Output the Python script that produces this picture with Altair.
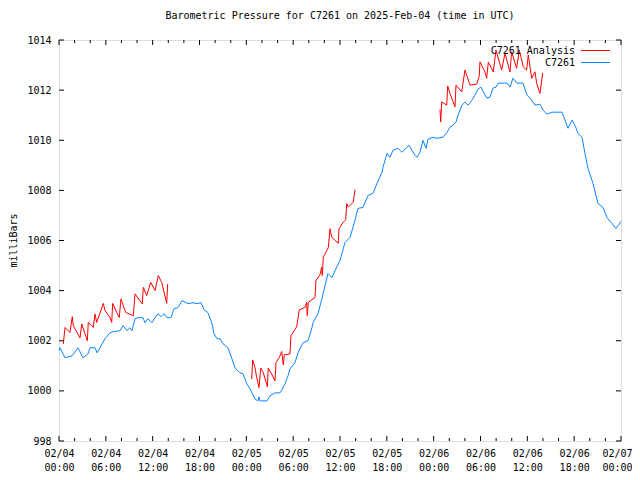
import altair as alt
import pandas as pd

# ---- data (hours since 2025-02-04 00:00 UTC, pressure in mb) ----
obs_hours = [0.0, 0.13, 0.77, 1.67, 2.43, 3.07, 3.72, 3.97, 4.61, 4.87, 5.25, 5.89, 6.53, 6.92, 7.81,
             8.20, 8.71, 9.10, 9.35, 9.74, 10.12, 10.76, 11.02, 11.40, 11.91, 12.30, 12.68, 13.07,
             13.45, 13.84, 14.35, 14.73, 15.24, 15.76, 16.53, 17.17, 17.68, 18.19, 18.58, 19.09,
             19.60, 19.86, 20.24, 20.63, 21.01, 21.65, 22.16, 22.55, 23.19, 23.57, 24.08, 24.47,
             25.11, 25.49, 25.62, 25.75, 26.65, 27.03, 27.67, 28.31, 28.57, 28.95, 29.34, 29.59,
             30.23, 30.62, 31.26, 31.90, 32.41, 32.54, 33.18, 33.69, 34.08, 34.46, 34.97, 35.36,
             36.00, 36.64, 37.28, 37.92, 38.30, 38.95, 39.59, 40.23, 40.74, 41.38, 41.51, 42.02,
             42.40, 42.79, 43.43, 43.94, 44.58, 44.84, 45.22, 45.61, 45.86, 46.25, 46.63, 47.02,
             47.27, 47.91, 48.42, 49.19, 49.71, 50.09, 50.47, 50.86, 51.11, 51.63, 52.01, 52.40,
             52.91, 53.29, 53.68, 54.06, 54.57, 54.83, 55.21, 55.60, 55.98, 56.24, 57.39, 57.78,
             58.16, 58.67, 59.44, 59.95, 60.34, 60.72, 60.98, 61.62, 62.00, 62.52, 63.16, 64.44,
             64.82, 65.21, 65.72, 66.10, 66.49, 67.00, 67.38, 67.77, 68.41, 69.05, 69.69, 70.20,
             70.84, 71.36, 71.74, 72.0]
obs_mb = [1001.60, 1001.72, 1001.32, 1001.40, 1001.72, 1001.32, 1001.48, 1001.72, 1001.72, 1001.52,
          1001.72, 1002.08, 1002.32, 1002.36, 1002.40, 1002.60, 1002.40, 1002.52, 1002.40, 1002.88,
          1002.92, 1002.92, 1002.72, 1002.88, 1002.72, 1002.92, 1003.08, 1002.96, 1003.08, 1002.92,
          1002.92, 1003.28, 1003.32, 1003.60, 1003.48, 1003.52, 1003.48, 1003.52, 1003.24, 1003.12,
          1002.68, 1002.28, 1002.08, 1002.08, 1001.88, 1001.72, 1001.28, 1000.92, 1000.72, 1000.68,
          1000.28, 1000.08, 999.68, 999.60, 999.76, 999.60, 999.60, 999.80, 999.92, 999.92,
          1000.04, 1000.28, 1000.60, 1000.88, 1001.12, 1001.52, 1001.92, 1002.00, 1002.52, 1002.72,
          1003.08, 1003.68, 1004.20, 1004.68, 1004.52, 1004.80, 1005.20, 1005.92, 1006.12, 1006.80,
          1007.28, 1007.32, 1007.80, 1007.88, 1008.28, 1008.72, 1008.92, 1009.48, 1009.32, 1009.60,
          1009.68, 1009.52, 1009.72, 1009.80, 1009.60, 1009.40, 1009.32, 1009.52, 1010.00, 1009.68,
          1010.04, 1010.12, 1010.08, 1010.12, 1010.32, 1010.52, 1010.60, 1010.72, 1011.00, 1011.40,
          1011.52, 1011.40, 1011.60, 1011.80, 1012.04, 1012.12, 1011.80, 1011.68, 1011.72, 1012.08,
          1012.12, 1012.28, 1012.28, 1012.12, 1012.48, 1012.28, 1012.28, 1011.80, 1011.68, 1011.52,
          1011.40, 1011.44, 1011.20, 1011.04, 1011.12, 1011.12, 1010.80, 1010.48, 1010.80, 1010.60,
          1010.28, 1010.12, 1009.48, 1008.88, 1008.28, 1007.48, 1007.32, 1006.92, 1006.68, 1006.48,
          1006.64, 1006.76]

ana1_hours = [0.55, 0.77, 1.41, 1.70, 1.83, 2.69, 2.91, 3.63, 3.75, 4.39, 4.61, 4.83, 5.68, 5.89,
              6.53, 6.75, 6.88, 7.39, 7.72, 7.94, 8.54, 9.52, 9.74, 10.67, 10.80, 11.24, 11.75,
              12.30, 12.72, 13.16, 13.80, 13.93]
ana1_mb = [1001.87, 1002.53, 1002.33, 1002.96, 1002.60, 1002.11, 1002.67, 1002.00, 1002.73, 1002.53,
           1003.07, 1002.73, 1003.49, 1003.20, 1002.93, 1002.73, 1003.49, 1003.13, 1002.93, 1003.67,
           1003.13, 1003.00, 1003.87, 1003.47, 1004.13, 1003.80, 1004.33, 1004.00, 1004.60, 1004.33,
           1003.49, 1004.27]

ana2_hours = [24.69, 24.81, 25.11, 25.33, 25.62, 25.84, 26.17, 26.69, 26.81, 27.25, 27.67, 27.80,
              28.22, 28.53, 28.74, 28.86, 29.59, 29.72, 30.45, 30.78, 31.51, 31.73, 31.81, 31.94,
              32.80, 32.92, 33.44, 33.65, 33.73, 33.86, 34.50, 34.72, 34.94, 35.78, 35.87, 36.42,
              36.73, 36.86, 37.06, 37.70, 37.92]
ana2_mb = [1000.47, 1001.23, 1000.93, 1000.53, 1000.13, 1000.91, 1000.73, 1000.16, 1000.91, 1000.67,
           1000.40, 1001.13, 1001.33, 1001.57, 1001.04, 1001.44, 1001.47, 1002.20, 1002.56, 1003.23,
           1003.33, 1003.53, 1003.00, 1003.53, 1003.73, 1004.40, 1004.64, 1004.93, 1004.60, 1005.33,
           1005.71, 1006.47, 1006.13, 1005.89, 1006.47, 1006.73, 1006.83, 1007.47, 1007.33, 1007.53,
           1008.03]

ana3_hours = [48.81, 48.90, 49.03, 49.67, 49.80, 50.09, 50.73, 50.86, 51.59, 52.01, 52.65, 53.51,
              53.84, 53.93, 54.57, 54.79, 55.00, 55.64, 55.98, 56.71, 57.14, 57.78, 57.99, 58.63,
              58.97, 59.48, 59.91, 60.12, 60.56, 60.98, 61.20, 61.62, 61.97]
ana3_mb = [1011.23, 1010.73, 1011.53, 1011.40, 1012.16, 1011.87, 1011.33, 1012.20, 1011.93, 1012.80,
           1012.20, 1012.24, 1012.56, 1013.13, 1012.73, 1012.47, 1013.12, 1012.73, 1013.60, 1012.80,
           1013.47, 1012.73, 1013.53, 1012.87, 1013.60, 1012.93, 1012.80, 1013.40, 1012.47, 1012.73,
           1012.27, 1011.87, 1012.69]

x_major = list(range(0, 73, 6))
x_minor = [h for h in range(0, 73, 2) if h % 6 != 0]
y_ticks = list(range(998, 1015, 2))
legend_labels = ["C7261 Analysis", "C7261"]
colors = ["#ff0000", "#0a84ff"]

FONT = "DejaVu Sans Mono"
W, H = 562, 401

obs = pd.DataFrame({"h": obs_hours, "p": obs_mb})
ana = pd.concat([
    pd.DataFrame({"h": ana1_hours, "p": ana1_mb, "seg": 1}),
    pd.DataFrame({"h": ana2_hours, "p": ana2_mb, "seg": 2}),
    pd.DataFrame({"h": ana3_hours, "p": ana3_mb, "seg": 3}),
])

xs = alt.Scale(domain=[0, 72], nice=False, zero=False)
ys = alt.Scale(domain=[998, 1014], nice=False, zero=False)

x_axis = alt.Axis(values=x_major, ticks=False, domain=False, grid=False,
                  labelFont=FONT, labelFontSize=10, labelColor="black",
                  labelPadding=7, labelLineHeight=14, labelFlush=False,
                  labelOffset={"condition": {"test": "datum.value == 72", "value": -4}, "value": 0},
                  labelExpr="['02/0' + (4 + floor(datum.value/24)), "
                            "(datum.value % 24 < 10 ? '0' : '') + (datum.value % 24) + ':00']",
                  title=None)
y_axis = alt.Axis(values=y_ticks, ticks=False, domain=False, grid=False, format="d",
                  labelFont=FONT, labelFontSize=10, labelColor="black",
                  labelPadding=8, labelFlush=False,
                  title="milliBars", titleFont=FONT, titleFontSize=10,
                  titleFontWeight="normal", titleColor="black",
                  titleAngle=270, titleX=-46, titleY=200,
                  titleAlign="center", titleBaseline="middle")

obs_line = alt.Chart(obs).mark_line(color=colors[1], strokeWidth=1, interpolate="linear").encode(
    x=alt.X("h:Q", scale=xs, axis=x_axis),
    y=alt.Y("p:Q", scale=ys, axis=y_axis),
)
ana_line = alt.Chart(ana).mark_line(color=colors[0], strokeWidth=1).encode(
    x=alt.X("h:Q", scale=xs),
    y=alt.Y("p:Q", scale=ys),
    detail="seg:N",
)

xmaj = pd.DataFrame({"h": x_major})
xmin = pd.DataFrame({"h": x_minor})
yt = pd.DataFrame({"p": y_ticks})
tick_style = dict(color="black", strokeWidth=1)

ticks = [
    alt.Chart(xmaj).mark_rule(**tick_style).encode(x=alt.X("h:Q", scale=xs), y=alt.value(H), y2=alt.value(H - 5)),
    alt.Chart(xmaj).mark_rule(**tick_style).encode(x=alt.X("h:Q", scale=xs), y=alt.value(0), y2=alt.value(5)),
    alt.Chart(xmin).mark_rule(**tick_style).encode(x=alt.X("h:Q", scale=xs), y=alt.value(H), y2=alt.value(H - 3)),
    alt.Chart(xmin).mark_rule(**tick_style).encode(x=alt.X("h:Q", scale=xs), y=alt.value(0), y2=alt.value(3)),
    alt.Chart(yt).mark_rule(**tick_style).encode(y=alt.Y("p:Q", scale=ys), x=alt.value(0), x2=alt.value(5)),
    alt.Chart(yt).mark_rule(**tick_style).encode(y=alt.Y("p:Q", scale=ys), x=alt.value(W), x2=alt.value(W - 5)),
]

leg_df = pd.DataFrame({"label": legend_labels, "row": [0, 1]})
leg_text = []
leg_lines = []
for i, (lab, col) in enumerate(zip(legend_labels, colors)):
    d = leg_df[leg_df.row == i]
    yy = 10.5 + i * 12
    leg_text.append(alt.Chart(d).mark_text(font=FONT, fontSize=10, align="right", baseline="middle",
                                           color="black").encode(
        text="label:N", x=alt.value(516), y=alt.value(yy)))
    leg_lines.append(alt.Chart(d).mark_rule(color=col, strokeWidth=1).encode(
        x=alt.value(522), x2=alt.value(551), y=alt.value(yy)))

chart = alt.layer(obs_line, ana_line, *ticks, *leg_text, *leg_lines).properties(
    width=W, height=H,
    title=alt.TitleParams("Barometric Pressure for C7261 on 2025-Feb-04 (time in UTC)",
                          font=FONT, fontSize=10, fontWeight="normal", color="black",
                          anchor="middle", offset=14),
    autosize=alt.AutoSizeParams(type="none"),
    padding={"left": 51, "top": 32, "right": 11, "bottom": 30},
).configure_view(stroke="black", strokeWidth=1).configure(background="white")

chart.save("out.html", embed_options={"renderer": "svg", "actions": False})
